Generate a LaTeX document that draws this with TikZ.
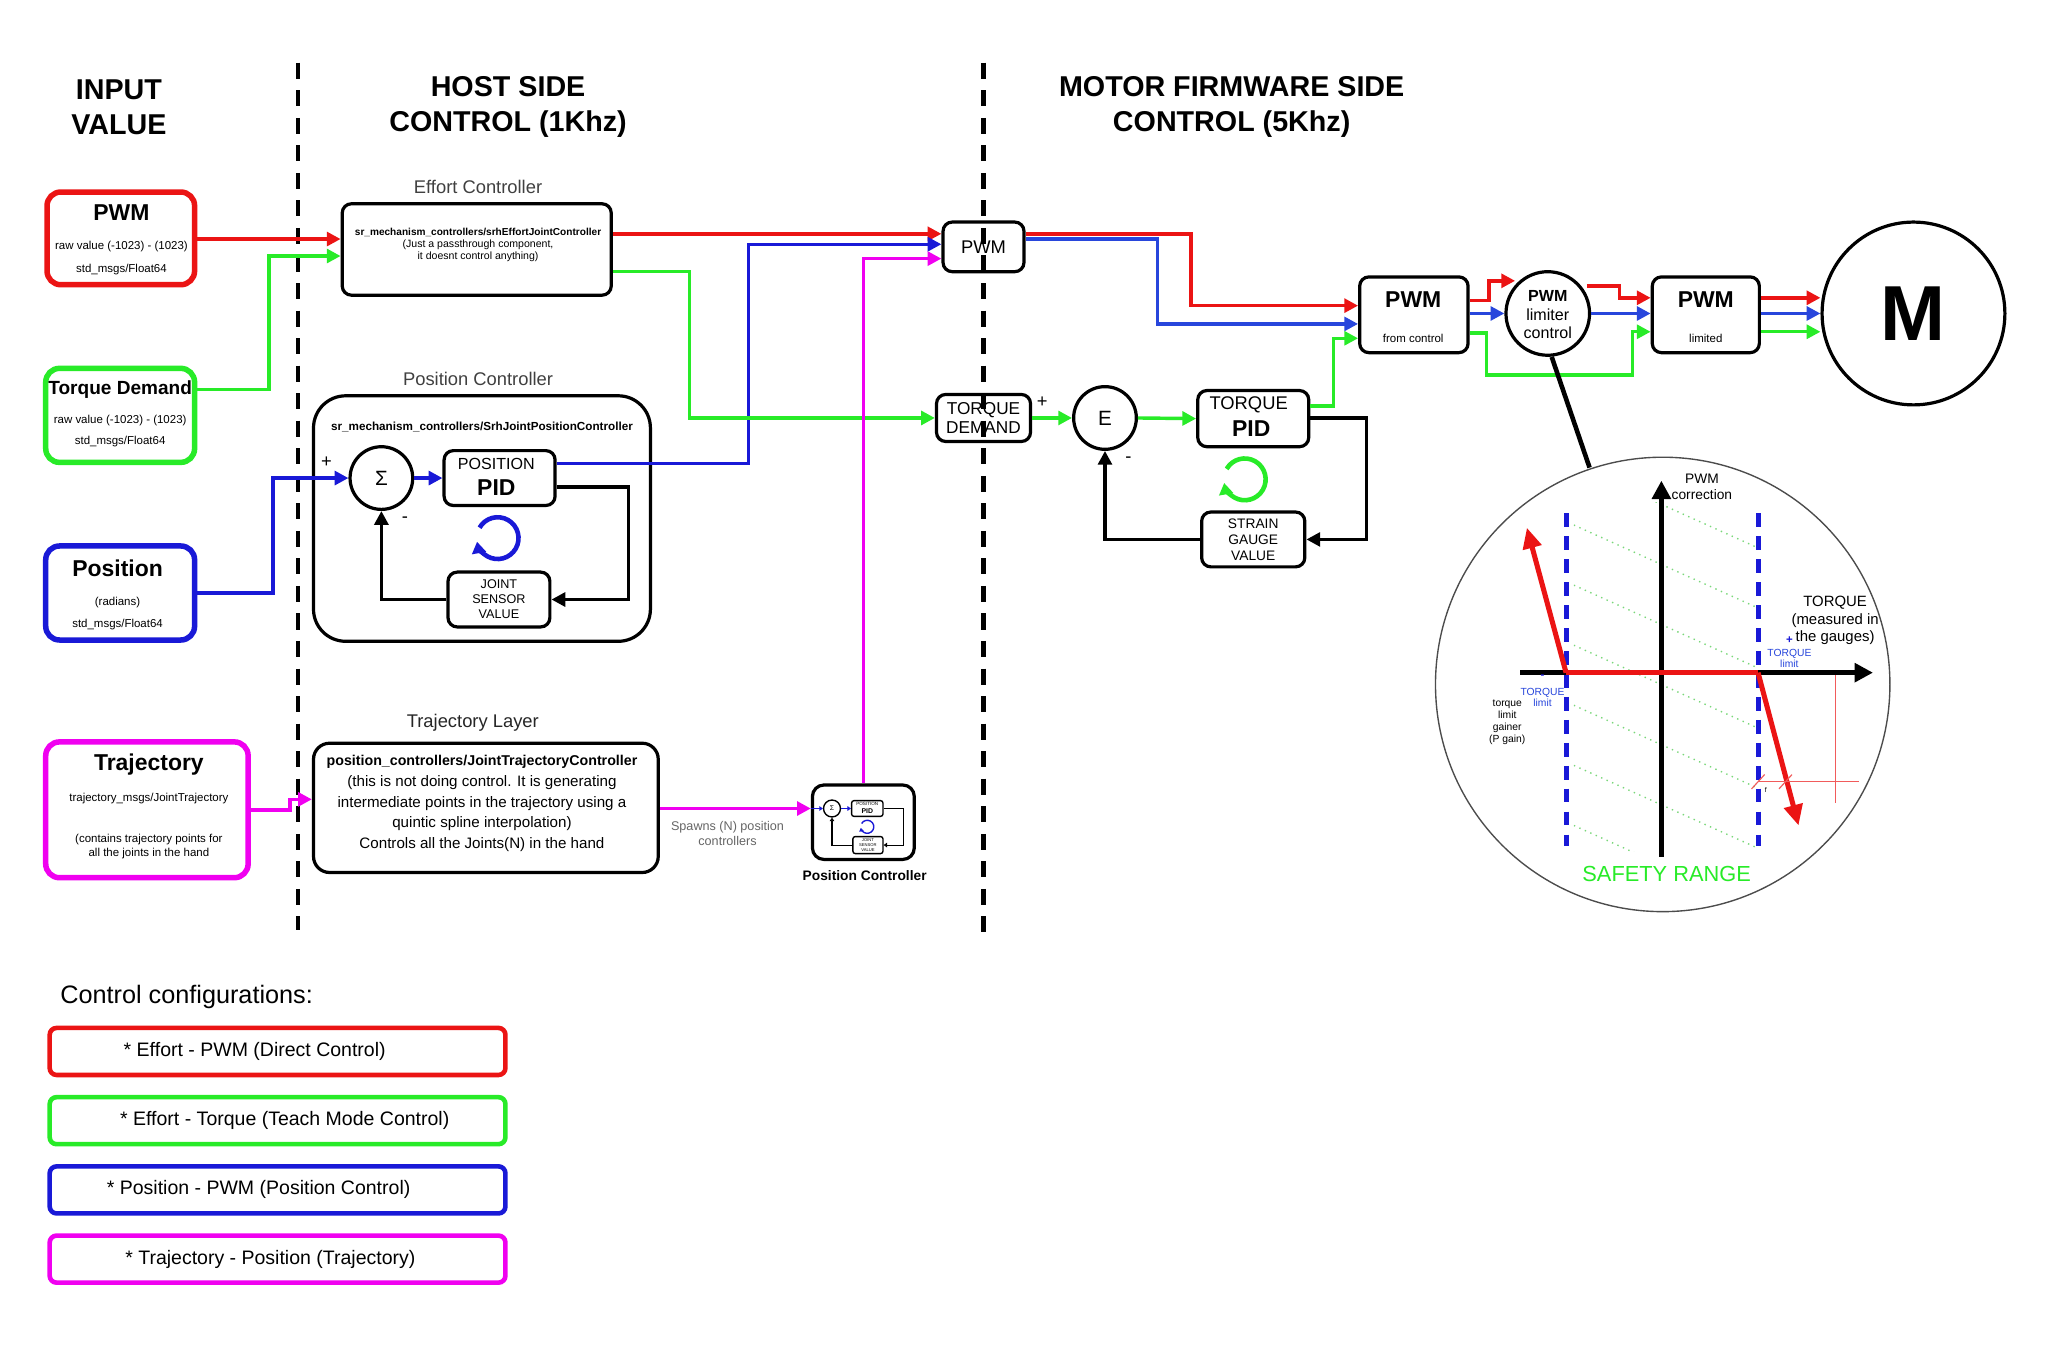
\documentclass[tikz,border=0pt]{standalone}
\usepackage{fontspec}
\setmainfont{Liberation Sans}
\usetikzlibrary{arrows.meta,calc}
\definecolor{cR}{RGB}{235,20,20}
\definecolor{cG}{RGB}{40,235,40}
\definecolor{cB}{RGB}{25,25,215}
\definecolor{cM}{RGB}{240,0,240}
\definecolor{cLB}{RGB}{40,70,220}
\begin{document}
\begin{tikzpicture}[x=0.02cm,y=-0.02cm,
  tip/.style={-{Triangle[length=6pt,width=6pt]}},
  wire/.style={line width=1.5pt,tip},
  box/.style={draw,line width=1.4pt,rounded corners=4pt,inner sep=0pt},
  inbox/.style={draw,line width=2.4pt,rounded corners=6pt,inner sep=0pt},
  lgd/.style={draw,line width=2pt,rounded corners=3pt,inner sep=0pt,minimum width=6.98cm,minimum height=0.72cm},
  ttl/.style={font=\fontsize{12.5}{15}\selectfont\bfseries,align=center},
  sm/.style={font=\fontsize{5}{6}\selectfont,align=center},
  lab/.style={font=\fontsize{8}{9.6}\selectfont,align=center},
  circ/.style={draw,circle,line width=1.4pt,inner sep=0pt}]
\useasboundingbox (0,0) rectangle (1568,1032);
\fill[white] (0,0) rectangle (1568,1032);

% dashed separators
\draw[line width=2pt,dash pattern=on 7pt off 5pt] (228,48) -- (228,712);
\draw[line width=2pt,dash pattern=on 7pt off 5pt] (753,48) -- (753,715);

% titles
\node[ttl] (t1) at (91,82) {INPUT\\VALUE};
\node[ttl] (t2) at (389,82) {HOST SIDE\\CONTROL (1Khz)};
\node[ttl] (t3) at (943,82) {MOTOR FIRMWARE SIDE\\CONTROL (5Khz)};

% input boxes
\node[inbox,draw=cR,minimum width=2.26cm,minimum height=1.42cm] (inPWM) at (92.5,182.5) {};
\node[font=\fontsize{10}{12}\selectfont\bfseries] (inPWMa) at (93,163) {PWM};
\node[sm] (inPWMb) at (93,189) {raw value (-1023) - (1023)};
\node[sm] (inPWMc) at (93,206) {std\_msgs/Float64};

\node[inbox,draw=cG,minimum width=2.28cm,minimum height=1.44cm] (inTQ) at (92,318) {};
\node[font=\fontsize{8.3}{10}\selectfont\bfseries] (inTQa) at (92,298) {Torque Demand};
\node[sm] (inTQb) at (92,322) {raw value (-1023) - (1023)};
\node[sm] (inTQc) at (92,338) {std\_msgs/Float64};

\node[inbox,draw=cB,minimum width=2.28cm,minimum height=1.44cm] (inPOS) at (92,454) {};
\node[font=\fontsize{10}{12}\selectfont\bfseries] (inPOSa) at (90,435) {Position};
\node[sm] (inPOSb) at (90,461) {(radians)};
\node[sm] (inPOSc) at (90,478) {std\_msgs/Float64};

\node[inbox,draw=cM,minimum width=3.1cm,minimum height=2.08cm] (inTR) at (112.5,620) {};
\node[font=\fontsize{10}{12}\selectfont\bfseries] (inTRa) at (114,585) {Trajectory};
\node[sm] (inTRb) at (114,611) {trajectory\_msgs/JointTrajectory};
\node[sm] (inTRc) at (114,648) {(contains trajectory points for\\all the joints in the hand};

% effort controller
\node[lab,text=black!75] (effL) at (366,143) {Effort Controller};
\node[box,minimum width=4.12cm,minimum height=1.4cm] (eff) at (365,191) {};
\node[font=\fontsize{4.4}{5.2}\selectfont\bfseries] (effa) at (366,178) {sr\_mechanism\_controllers/srhEffortJointController};
\node[sm,font=\fontsize{4.6}{5.4}\selectfont] (effb) at (366,192) {(Just a passthrough component,\\it doesnt control anything)};

% position controller
\node[lab,text=black!75] (pcL) at (366,290) {Position Controller};
\node[draw,line width=1.4pt,rounded corners=14pt,minimum width=5.16cm,minimum height=3.76cm] (pc) at (369,397) {};
\node[font=\fontsize{5.1}{6}\selectfont\bfseries] (pca) at (369,327) {sr\_mechanism\_controllers/SrhJointPositionController};
\node[circ,minimum size=0.96cm,font=\fontsize{9}{10}\selectfont] (sig) at (292,366) {Σ};
\node[font=\fontsize{8}{9}\selectfont] (sp) at (250,354) {+};
\node[font=\fontsize{8}{9}\selectfont] (sm1) at (310,398) {-};
\node[box,minimum width=1.7cm,minimum height=0.84cm] (pid) at (382.5,366) {};
\node[font=\fontsize{7}{8}\selectfont] (pida) at (380,355) {POSITION};
\node[font=\fontsize{10}{12}\selectfont\bfseries] (pidb) at (380,373) {PID};
\node[box,minimum width=1.56cm,minimum height=0.84cm,font=\fontsize{5.5}{6.5}\selectfont,align=center] (jsv) at (382,459) {JOINT\\SENSOR\\VALUE};
\draw[cB,line width=2pt,-{Triangle[length=5pt,width=6pt]}] (381,412) ++(150:0.32cm) arc[start angle=150,end angle=-170,radius=0.32cm];

% trajectory layer
\node[lab,text=black!85] (tlL) at (362,553) {Trajectory Layer};
\node[box,rounded corners=7pt,minimum width=5.28cm,minimum height=1.98cm] (tl) at (372,618.5) {};
\node[font=\fontsize{6.2}{8}\selectfont\bfseries] (tla) at (369,583) {position\_controllers/JointTrajectoryController};
\node[font=\fontsize{6.6}{9}\selectfont,align=center] (tlb) at (369,623) {(this is not doing control. It is generating\\intermediate points in the trajectory using a\\quintic spline interpolation)\\Controls all the Joints(N) in the hand};
\node[font=\fontsize{5.5}{6.6}\selectfont,align=center,text=black!60] (spw) at (557,638) {Spawns (N) position\\controllers};

% small position controller
\node[box,rounded corners=5pt,minimum width=1.56cm,minimum height=1.14cm] (spc) at (661,629.5) {};
\node[font=\fontsize{6}{7}\selectfont\bfseries] (spcL) at (662,670) {Position Controller};
\node[circ,line width=0.6pt,minimum size=0.26cm,font=\fontsize{3}{3}\selectfont] (ssig) at (637,619) {Σ};
\node[draw,line width=0.6pt,rounded corners=1pt,minimum width=0.48cm,minimum height=0.24cm,inner sep=0pt] (spid) at (664,619) {};
\node[font=\fontsize{2}{2}\selectfont] (spida) at (664,615.5) {POSITION};
\node[font=\fontsize{3}{3}\selectfont\bfseries] (spidb) at (664,621) {PID};
\node[draw,line width=0.6pt,rounded corners=1pt,minimum width=0.46cm,minimum height=0.26cm,inner sep=0pt,font=\fontsize{1.8}{2}\selectfont,align=center] (sjsv) at (664.5,647) {JOINT\\SENSOR\\VALUE};
\draw[cB,line width=0.6pt,-{Triangle[length=1.5pt,width=2pt]}] (664,633) ++(150:0.1cm) arc[start angle=150,end angle=-170,radius=0.1cm];
\draw[cB,line width=0.6pt,-{Triangle[length=1.5pt,width=2pt]}] (spc.west |- ssig) -- (ssig.west);
\draw[cB,line width=0.6pt,-{Triangle[length=1.5pt,width=2pt]}] (ssig.east) -- (spid.west);
\draw[line width=0.5pt,-{Triangle[length=1.5pt,width=2pt]}] (spid.east) -- (692,619) -- (692,647) -- (sjsv.east);
\draw[line width=0.5pt,-{Triangle[length=1.5pt,width=2pt]}] (sjsv.west) -- (637,647) -- (ssig.south);

% firmware side
\node[box,minimum width=1.24cm,minimum height=0.76cm,font=\fontsize{8}{9.6}\selectfont] (pwm) at (753,189) {PWM};
\node[box,minimum width=1.44cm,minimum height=0.72cm,font=\fontsize{7.5}{8.5}\selectfont,align=center] (tqd) at (753,320) {TORQUE\\DEMAND};
\node[circ,minimum size=0.96cm,font=\fontsize{9}{10}\selectfont] (E) at (846,320) {E};
\node[font=\fontsize{8}{9}\selectfont] (ep) at (798,308) {+};
\node[font=\fontsize{8}{9}\selectfont] (em) at (864,352) {-};
\node[box,minimum width=1.7cm,minimum height=0.86cm] (tpid) at (959.5,320.5) {};
\node[font=\fontsize{8}{9}\selectfont] (tpida) at (956,310) {TORQUE};
\node[font=\fontsize{10}{12}\selectfont\bfseries] (tpidb) at (958,328) {PID};
\node[box,minimum width=1.58cm,minimum height=0.84cm,font=\fontsize{6}{7}\selectfont,align=center] (sgv) at (959.5,413) {STRAIN\\GAUGE\\VALUE};
\draw[cG,line width=2pt,-{Triangle[length=5pt,width=6pt]}] (953,367) ++(150:0.32cm) arc[start angle=150,end angle=-170,radius=0.32cm];

\node[box,minimum width=1.66cm,minimum height=1.16cm] (pfc) at (1082.5,241) {};
\node[font=\fontsize{10}{12}\selectfont\bfseries] (pfca) at (1082,229) {PWM};
\node[font=\fontsize{5}{6}\selectfont] (pfcb) at (1082,259) {from control};
\node[circ,minimum size=1.28cm] (lim) at (1185,240) {};
\node[font=\fontsize{7}{8}\selectfont,align=center] (lima) at (1185,241) {\textbf{PWM}\\limiter\\control};
\node[box,minimum width=1.64cm,minimum height=1.16cm] (plim) at (1306,241) {};
\node[font=\fontsize{10}{12}\selectfont\bfseries] (plima) at (1306,229) {PWM};
\node[font=\fontsize{5}{6}\selectfont] (plimb) at (1306,259) {limited};
\node[circ,minimum size=2.8cm,font=\fontsize{34}{40}\selectfont\bfseries] (M) at (1465,240) {M};

% connectors red
\draw[wire,cR] (inPWM.east |- 0,183) -- (eff.west |- 0,183);
\draw[wire,cR] (eff.east |- 0,179) -- (pwm.west |- 0,179);
\draw[wire,cR] (pwm.east |- 0,179) -- (912,179) -- (912,234) -- (pfc.west |- 0,234);
\draw[wire,cR] (pfc.east |- 0,230) -- (1140,230) -- (1140,215) -- (1160,215);
\draw[wire,cR] (1215,219) -- (1240,219) -- (1240,228) -- (plim.west |- 0,228);
\draw[wire,cR] (plim.east |- 0,228) -- (M.west |- 0,228);
% blue
\draw[wire,cB] (inPOS.east |- 0,454) -- (209,454) -- (209,366) -- (sig.west);
\draw[wire,cB] (sig.east) -- (pid.west);
\draw[wire,cB] (pid.east |- 0,355) -- (573,355) -- (573,187) -- (pwm.west |- 0,187);
\draw[wire,cLB] (pwm.east |- 0,183) -- (886,183) -- (886,248) -- (pfc.west |- 0,248);
\draw[wire,cLB] (pfc.east |- 0,240) -- (lim.west);
\draw[wire,cLB] (lim.east) -- (plim.west |- 0,240);
\draw[wire,cLB] (plim.east |- 0,240) -- (M.west |- 0,240);
% green
\draw[wire,cG] (inTQ.east |- 0,298) -- (206,298) -- (206,196) -- (eff.west |- 0,196);
\draw[wire,cG] (eff.east |- 0,208) -- (528,208) -- (528,320) -- (tqd.west);
\draw[wire,cG] (tqd.east) -- (E.west);
\draw[wire,cG] (E.east) -- (tpid.west);
\draw[wire,cG] (tpid.east |- 0,311) -- (1021,311) -- (1021,259) -- (pfc.west |- 0,259);
\draw[wire,cG] (pfc.east |- 0,255) -- (1138,255) -- (1138,287) -- (1250,287) -- (1250,254) -- (plim.west |- 0,254);
\draw[wire,cG] (plim.east |- 0,254) -- (M.west |- 0,254);
% black
\draw[wire] (pid.east |- 0,373) -- (481,373) -- (481,459) -- (jsv.east);
\draw[wire] (jsv.west) -- (292,459) -- (sig.south);
\draw[wire] (tpid.east |- 0,320) -- (1046,320) -- (1046,413) -- (sgv.east);
\draw[wire] (sgv.west) -- (846,413) -- (E.south);
% magenta
\draw[wire,cM] (inTR.east |- 0,620) -- (222,620) -- (222,612) -- (tl.west |- 0,612);
\draw[wire,cM] (tl.east |- 0,619) -- (spc.west |- 0,619);
\draw[wire,cM] (spc.north -| 661,0) -- (661,198) -- (pwm.west |- 0,198);

% zoom graph
\node[draw=black!70,circle,line width=0.6pt,minimum size=6.96cm,inner sep=0pt] (zc) at (1273,524) {};
\coordinate (zt) at (1217,358);
\draw[line width=2pt] (lim.south) ++(3,0) -- (zt);
\begin{scope}
\clip (1205,385) rectangle (1345,652);
\foreach \k in {-3,...,7} {
  \draw[cG!80!black!60,line width=0.6pt,dotted] (1205,356+46*\k) -- (1345,356+46*\k+63);
}
\end{scope}
\draw[cB,line width=2.2pt,dash pattern=on 6pt off 4pt] (1199,393) -- (1199,648);
\draw[cB,line width=2.2pt,dash pattern=on 6pt off 4pt] (1346,393) -- (1346,648);
\draw[line width=2pt,-{Triangle[length=8pt,width=8pt]}] (1164,515) -- (1434,515);
\draw[line width=2pt,-{Triangle[length=8pt,width=8pt]}] (1272,656) -- (1272,368);
\draw[cR,line width=2.2pt] (1199,515) -- (1346,515);
\draw[cR,line width=2.2pt,-{Triangle[length=9pt,width=8pt]}] (1199,515) -- (1169,404);
\draw[cR,line width=2.2pt,-{Triangle[length=9pt,width=8pt]}] (1346,515) -- (1377,632);
\draw[cR!70,line width=0.5pt] (1405,517) -- (1405,615);
\draw[cR!70,line width=0.5pt] (1346,598) -- (1423,598);
\draw[cR!70,line width=0.5pt] (1341,604) -- (1351,593);
\draw[cR!70,line width=0.5pt] (1362,604) -- (1372,593);
\node[font=\fontsize{6}{7}\selectfont,align=center] (ga) at (1303,373) {PWM\\correction};
\node[font=\fontsize{6.5}{7.5}\selectfont,align=center] (gb) at (1405,475) {TORQUE\\(measured in\\the gauges)};
\node[font=\fontsize{5}{5}\selectfont\bfseries,text=cB] (gc) at (1370,490) {+};
\node[font=\fontsize{4.5}{5}\selectfont,align=center,text=cLB] (gd) at (1370,504) {TORQUE\\limit};
\node[font=\fontsize{5}{5}\selectfont\bfseries,text=cB] (ge) at (1181,518) {-};
\node[font=\fontsize{4.5}{5}\selectfont,align=center,text=cLB] (gf) at (1181,534) {TORQUE\\limit};
\node[font=\fontsize{4.5}{5.3}\selectfont,align=center] (gg) at (1154,553) {torque\\limit\\gainer\\(P gain)};
\node[font=\fontsize{3}{3}\selectfont] (gh) at (1352,605) {f};
\node[font=\fontsize{9.5}{11}\selectfont,text=cG] (gi) at (1276,669) {SAFETY RANGE};

% legend
\node[font=\fontsize{11}{13}\selectfont,anchor=west] (lgT) at (40,763) {Control configurations:};
\node[lgd,draw=cR] (lg1) at (212.5,805) {};
\node[font=\fontsize{8.5}{10}\selectfont] (lg1t) at (195,805) {* Effort - PWM (Direct Control)};
\node[lgd,draw=cG] (lg2) at (212.5,858) {};
\node[font=\fontsize{8.5}{10}\selectfont] (lg2t) at (218,858) {* Effort - Torque (Teach Mode Control)};
\node[lgd,draw=cB] (lg3) at (212.5,911) {};
\node[font=\fontsize{8.5}{10}\selectfont] (lg3t) at (198,911) {* Position - PWM (Position Control)};
\node[lgd,draw=cM] (lg4) at (212.5,964) {};
\node[font=\fontsize{8.5}{10}\selectfont] (lg4t) at (207,964) {* Trajectory - Position (Trajectory)};
\end{tikzpicture}
\end{document}
